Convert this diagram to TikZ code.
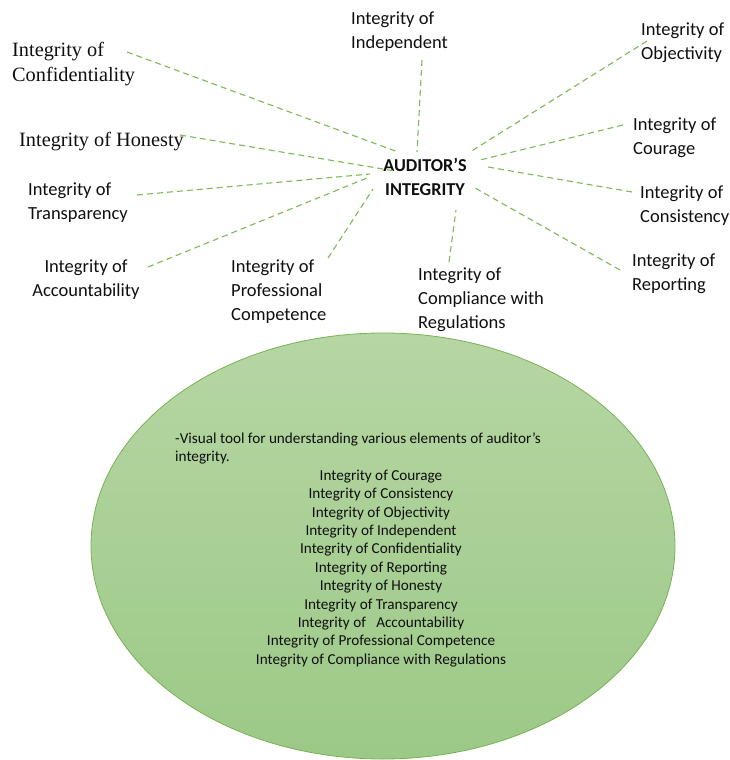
\documentclass[tikz,border=0pt]{standalone}
\usepackage{fontspec}
\setmainfont{Carlito}
\newfontfamily\serifface{Liberation Serif}
\usetikzlibrary{shapes.geometric}

\definecolor{linkgreen}{RGB}{125,185,85}
\definecolor{ovaltop}{RGB}{182,214,163}
\definecolor{ovalbottom}{RGB}{156,201,135}
\definecolor{ovalrim}{RGB}{120,178,84}
\definecolor{inktext}{RGB}{15,15,15}

\tikzset{
  label/.style={anchor=north west, inner sep=0pt, align=left, text=inktext,
                font=\fontsize{18.5}{24}\selectfont},
  serif label/.style={anchor=north west, inner sep=0pt, align=left, text=inktext,
                font=\serifface\fontsize{20.3}{25}\selectfont},
  hub/.style={anchor=north, inner sep=0pt, align=center, text=inktext,
              font=\bfseries\fontsize{18.2}{24}\selectfont},
  link/.style={draw=linkgreen, line width=1.1pt, dash pattern=on 6pt off 4pt},
  oval/.style={ellipse, draw=ovalrim, line width=0.8pt, top color=ovaltop,
               bottom color=ovalbottom, inner sep=0pt},
  note/.style={inner sep=0pt, text=inktext, font=\fontsize{15.2}{18.4}\selectfont}
}

\begin{document}
\begin{tikzpicture}[x=1pt,y=-1pt]
\useasboundingbox (0,0) rectangle (729,760);

% summary oval
\node[oval, minimum width=584pt, minimum height=426pt] (oval) at (383,546) {};
\node[note, anchor=north west, align=left] (intro) at (175,430.3)
  {\strut-Visual tool for understanding various elements of auditor’s\\integrity.};
\node[note, anchor=north, align=center] (list) at (381,467.3)
  {\strut Integrity of Courage\\
   Integrity of Consistency\\
   Integrity of Objectivity\\
   Integrity of Independent\\
   Integrity of Confidentiality\\
   Integrity of Reporting\\
   Integrity of Honesty\\
   Integrity of Transparency\\
   Integrity of \ \ Accountability\\
   Integrity of Professional Competence\\
   Integrity of Compliance with Regulations};

% central idea
\node[hub] (hub) at (425,154.5) {\strut AUDITOR’S\\INTEGRITY};

% surrounding elements
\node[serif label] (conf) at (12,39.2) {\strut Integrity of\\Confidentiality};
\node[label] (indep) at (351,7.5) {\strut Integrity of\\Independent};
\node[label] (obj) at (641,18.5) {\strut Integrity of\\Objectivity};
\node[serif label] (hon) at (19,129.2) {\strut Integrity of Honesty};
\node[label] (cour) at (633,113.5) {\strut Integrity of\\Courage};
\node[label] (transp) at (28,178.5) {\strut Integrity of\\Transparency};
\node[label] (cons) at (640,181.5) {\strut Integrity of\\Consistency};
\node[label, anchor=north, align=center] (acct) at (86,255.5) {\strut Integrity of\\Accountability};
\node[label] (prof) at (231,255.5) {\strut Integrity of\\Professional\\Competence};
\node[label] (comp) at (418,263.5) {\strut Integrity of\\Compliance with\\Regulations};
\node[label] (rep) at (632,249.5) {\strut Integrity of\\Reporting};

% connector end points
\coordinate (conf-o) at (127,52);   \coordinate (conf-i) at (398,152);
\coordinate (indep-o) at (422,60);  \coordinate (indep-i) at (417,152);
\coordinate (obj-o) at (647,41);    \coordinate (obj-i) at (470,152);
\coordinate (hon-o) at (180,135);   \coordinate (hon-i) at (395,171);
\coordinate (transp-o) at (137,195);\coordinate (transp-i) at (370,174);
\coordinate (acct-o) at (148,267);  \coordinate (acct-i) at (367,178);
\coordinate (prof-o) at (328,258);  \coordinate (prof-i) at (373,189);
\coordinate (comp-o) at (449,262);  \coordinate (comp-i) at (456,210);
\coordinate (cour-o) at (623,125);  \coordinate (cour-i) at (480,160);
\coordinate (cons-o) at (632,192);  \coordinate (cons-i) at (488,167);
\coordinate (rep-o) at (620,270);   \coordinate (rep-i) at (475,188);

\foreach \k in {conf,indep,obj,hon,transp,acct,prof,comp,cour,cons,rep}
  \draw[link] (\k-o) -- (\k-i);
\end{tikzpicture}
\end{document}
